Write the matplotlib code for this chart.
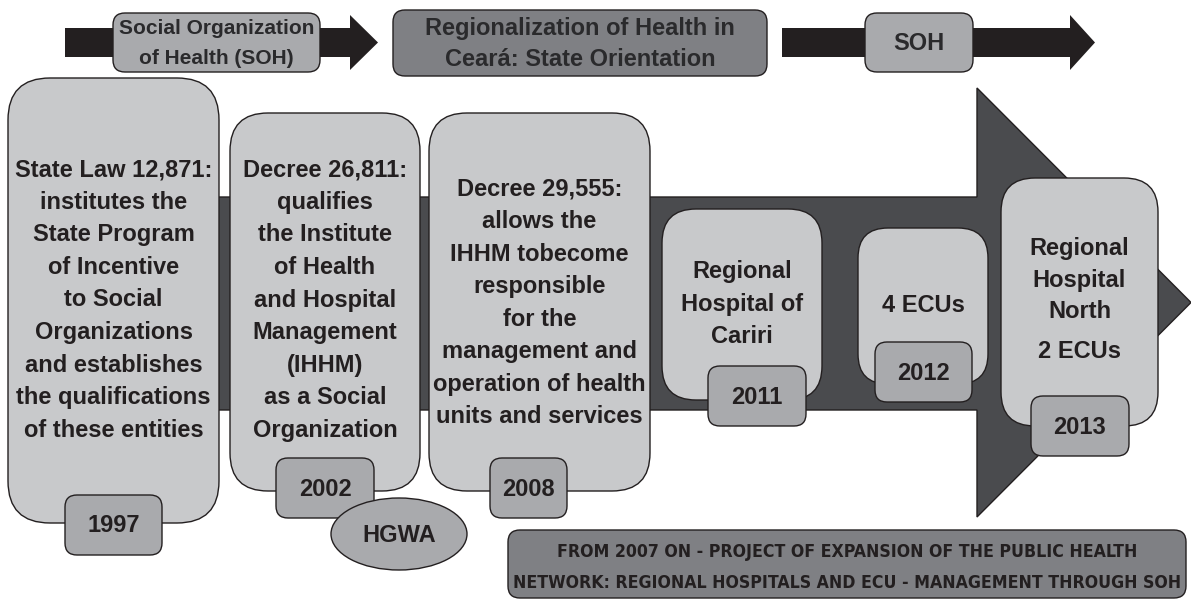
import matplotlib
matplotlib.use("Agg")
import matplotlib.pyplot as plt
from matplotlib.patches import FancyBboxPatch, Polygon, Ellipse

plt.rcParams['font.family'] = ['Liberation Sans', 'DejaVu Sans']

# ---------------- Content ----------------
top_labels = ["Social Organization\nof Health (SOH)",
              "Regionalization of Health in\nCeará: State Orientation",
              "SOH"]

card_texts = [
    "State Law 12,871:\ninstitutes the\nState Program\nof Incentive\nto Social\nOrganizations\nand establishes\nthe qualifications\nof these entities",
    "Decree 26,811:\nqualifies\nthe Institute\nof Health\nand Hospital\nManagement\n(IHHM)\nas a Social\nOrganization",
    "Decree 29,555:\nallows the\nIHHM tobecome\nresponsible\nfor the\nmanagement and\noperation of health\nunits and services",
    "Regional\nHospital of\nCariri",
    "4 ECUs",
    "Regional\nHospital\nNorth\n2 ECUs",
]
years = ["1997", "2002", "2008", "2011", "2012", "2013"]
extra_label = "HGWA"
banner_lines = ["FROM 2007 ON - PROJECT OF EXPANSION OF THE PUBLIC HEALTH",
                "NETWORK: REGIONAL HOSPITALS AND ECU - MANAGEMENT THROUGH SOH"]

# ---------------- Layout (pixels) ----------------
# cards: x0, y0, x1, y1, rounding, text centre y
card_boxes = [(8, 78, 219, 523, 42, 300),
              (230, 113, 420, 491, 38, 300),
              (429, 113, 650, 491, 38, 303),
              (662, 209, 822, 400, 34, 304),
              (858, 228, 988, 384, 30, 305),
              (1001, 178, 1158, 426, 34, 298)]
year_boxes = [(65, 495, 162, 555),
              (276, 458, 374, 518),
              (490, 458, 567, 518),
              (708, 366, 806, 426),
              (875, 342, 972, 402),
              (1031, 396, 1129, 456)]
# x0, y0, x1, y1, fill, font size
top_boxes = [(113, 13, 320, 72, "#a9aaad", 15),
             (393, 10, 767, 76, "#7f8084", 17),
             (865, 13, 973, 72, "#a9aaad", 17)]

LIGHT = "#c8c9cb"
MID = "#a9aaad"
DARK = "#7f8084"
ARROW = "#4a4b4e"
INK = "#231f20"
FS = 17

fig = plt.figure(figsize=(11.91, 6.0), dpi=100)
ax = fig.add_axes([0, 0, 1, 1])
ax.set_xlim(0, 1191)
ax.set_ylim(600, 0)
ax.axis("off")


def rbox(x0, y0, x1, y1, r, fc, z):
    p = FancyBboxPatch((x0, y0), x1 - x0, y1 - y0,
                       boxstyle=f"round,pad=0,rounding_size={r}",
                       fc=fc, ec=INK, lw=1.0, zorder=z)
    ax.add_patch(p)


# top black arrows
for xs, xh, xt in [(65, 350, 378), (782, 1070, 1095)]:
    ax.add_patch(Polygon([(xs, 28), (xh, 28), (xh, 15), (xt, 42.5), (xh, 70),
                          (xh, 57), (xs, 57)], closed=True, fc=INK, ec="none", zorder=1))

for (x0, y0, x1, y1, fc, fs), lab in zip(top_boxes, top_labels):
    rbox(x0, y0, x1, y1, 12, fc, 2)
    ax.text((x0 + x1) / 2, (y0 + y1) / 2 + 1, lab, ha="center", va="center",
            fontsize=fs, fontweight="bold", color="#2a2a2c",
            linespacing=1.5 * 17 / fs, zorder=3)

# big timeline arrow
ax.add_patch(Polygon([(200, 197), (977, 197), (977, 88), (1191, 302.5), (977, 517),
                      (977, 410), (200, 410)], closed=True, fc=ARROW, ec=INK,
                     lw=1.0, zorder=1))

# event cards
for i, ((x0, y0, x1, y1, r, ty), txt) in enumerate(zip(card_boxes, card_texts)):
    rbox(x0, y0, x1, y1, r, LIGHT, 2)
    if i == 5:
        head, tail = txt.rsplit("\n", 1)
        ax.text((x0 + x1) / 2, 280, head, ha="center", va="center", fontsize=FS,
                fontweight="bold", color=INK, linespacing=1.45, zorder=3)
        ax.text((x0 + x1) / 2, 351, tail, ha="center", va="center", fontsize=FS,
                fontweight="bold", color=INK, zorder=3)
        continue
    ax.text((x0 + x1) / 2, ty, txt, ha="center", va="center", fontsize=FS,
            fontweight="bold", color=INK, linespacing=1.53, zorder=3)

# year tags
for (x0, y0, x1, y1), yr in zip(year_boxes, years):
    rbox(x0, y0, x1, y1, 12, MID, 4)
    ax.text((x0 + x1) / 2, (y0 + y1) / 2 + 1, yr, ha="center", va="center",
            fontsize=FS, fontweight="bold", color=INK, zorder=5)

ax.add_patch(Ellipse((399, 534), 136, 72, fc=MID, ec=INK, lw=1.0, zorder=6))
ax.text(399, 535, extra_label, ha="center", va="center", fontsize=FS,
        fontweight="bold", color=INK, zorder=7)

# bottom banner
rbox(508, 530, 1186, 598, 12, DARK, 2)
for yy, line in zip([552, 583], banner_lines):
    ax.text(847, yy, line, ha="center", va="center", fontsize=12.7,
            fontweight="bold", family="DejaVu Sans", fontstretch="condensed",
            color=INK, zorder=3)

fig.savefig("out.png", dpi=100)
